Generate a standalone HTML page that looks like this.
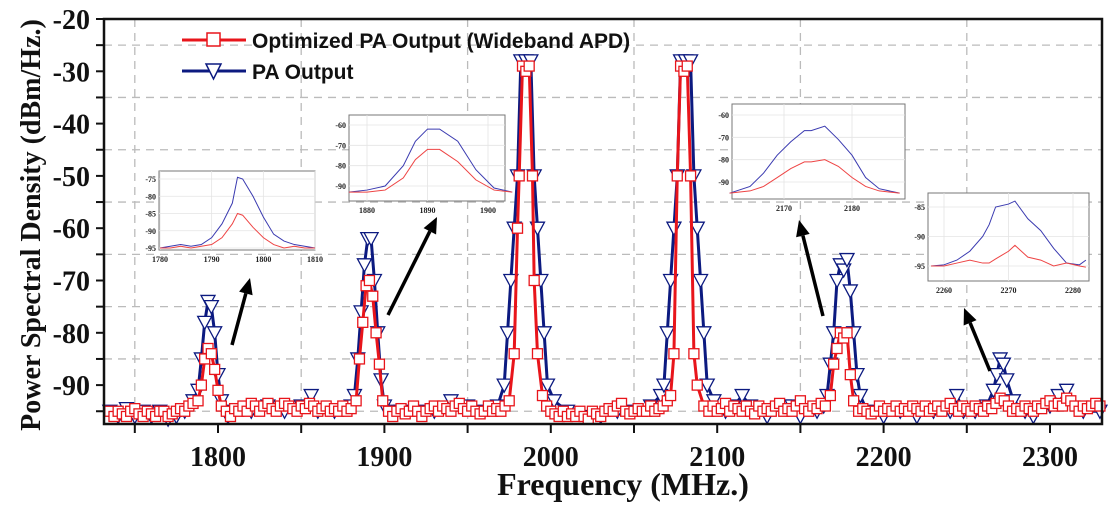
<!DOCTYPE html>
<html><head><meta charset="utf-8"><style>
html,body{margin:0;padding:0;background:#fff;width:1113px;height:507px;overflow:hidden}
svg{display:block}
.tk{font-family:"Liberation Serif",serif;font-weight:bold;font-size:28px;fill:#111}
.lg{font-family:"Liberation Sans",sans-serif;font-weight:bold;font-size:21px;fill:#111}
.it{font-family:"Liberation Serif",serif;font-weight:bold;font-size:8px;fill:#222}
</style></head><body>
<svg id="chart" width="1113" height="507">
<g id="grid"></g>
<g id="series"></g>
<rect x="104" y="19" width="998" height="405" fill="none" stroke="#111" stroke-width="2.5"/>
<g id="axes"></g>
<text x="623" y="495" text-anchor="middle" class="tk" style="font-size:32px">Frequency (MHz.)</text>
<text transform="translate(40,225) rotate(-90)" text-anchor="middle" class="tk" style="font-size:28px">Power Spectral Density (dBm/Hz.)</text>
<g>
<g>
<line x1="182" y1="40" x2="246" y2="40" stroke="#e8151b" stroke-width="3"/>
<rect x="207" y="33" width="13" height="13" fill="#fff" stroke="#e8151b" stroke-width="1.5"/>
<text x="252" y="48" class="lg">Optimized PA Output (Wideband APD)</text></g>
<g>
<line x1="182" y1="71" x2="246" y2="71" stroke="#0c1a80" stroke-width="3"/>
<path d="M206,64 L221,64 L213.5,79 Z" fill="#fff" stroke="#0c1a80" stroke-width="1.5"/>
<text x="252" y="79" class="lg">PA Output</text></g>
</g>
<g id="insets"></g>
<g id="arrows"></g>
</svg>
<script>
// main chart data
const redFreq=[1735,1737.5,1740,1742.5,1745,1747.5,1750,1752.5,1755,1757.5,1760,1762.5,1765,1767.5,1770,1772.5,1775,1777.5,1780,1782.5,1785,
1788,1790,1792,1794,1796,1798,1800,1802,
1805,1807.5,1810,1812.5,1815,1817.5,1820,1822.5,1825,1827.5,1830,1832.5,1835,1837.5,1840,1842.5,1845,1847.5,1850,1852.5,1855,1857.5,1860,1862.5,1865,1867.5,1870,1872.5,1875,1877.5,1880,
1883,1885,1887,1889,1891,1893,1895,1897,1899,
1902.5,1905,1907.5,1910,1912.5,1915,1917.5,1920,1922.5,1925,1927.5,1930,1932.5,1935,1937.5,1940,1942.5,1945,1947.5,1950,1952.5,1955,1957.5,1960,1962.5,1965,1967.5,1970,1972.5,1975,
1978,1980,1981,1983,1985,1987,1989,1990,1992,1995,
1997.5,2000,2002.5,2005,2007.5,2010,2012.5,2015,2017.5,2020,2022.5,2025,2027.5,2030,2032.5,2035,2037.5,2040,2042.5,2045,2047.5,2050,2052.5,2055,2057.5,2060,2062.5,2065,2067.5,2070,
2072,2074,2076,2078,2080,2082,2084,2086,2088,2092,
2095,2097.5,2100,2102.5,2105,2107.5,2110,2112.5,2115,2117.5,2120,2122.5,2125,2127.5,2130,2132.5,2135,2137.5,2140,2142.5,2145,2147.5,2150,2152.5,2155,2157.5,2160,2162.5,2165,
2168,2170,2172,2174,2176,2178,2180,2182,
2185,2187.5,2190,2192.5,2195,2197.5,2200,2202.5,2205,2207.5,2210,2212.5,2215,2217.5,2220,2222.5,2225,2227.5,2230,2232.5,2235,2237.5,2240,2242.5,2245,2247.5,2250,2252.5,2255,2257.5,2260,2262.5,2265,2267.5,2270,2272.5,2275,2277.5,2280,2282.5,2285,2287.5,2290,2292.5,2295,2297.5,2300,2302.5,2305,2307.5,2310,2312.5,2315,2317.5,2320,2322.5,2325,2327.5,2330];
const redVal=[-95,-96,-95,-95.5,-96,-95,-94.5,-95.5,-96,-95,-95.5,-96,-95,-95,-96,-95.5,-95,-94.5,-95,-94,-93.5,
-93,-90,-85,-83,-84,-87,-91,-94,
-95,-96,-94.5,-95,-94,-95,-93.5,-94,-95,-94,-93.5,-94.5,-95,-94,-93.5,-94,-94.5,-95,-94,-94.5,-93.5,-94,-95,-94.5,-94,-95,-94.5,-95,-94,-95,-94.5,
-93,-85,-78,-71,-70,-73,-80,-86,-93,
-95,-96,-95,-94.5,-95.5,-95,-94,-95,-96,-95,-94.5,-94,-95,-94,-94.5,-95,-94,-93.5,-94.5,-95,-94,-95,-95.5,-95,-94,-95,-94.5,-95,-94,-93,
-84,-60,-50,-29,-30,-29,-50,-70,-84,-92,
-94,-95,-95.5,-96,-95,-96,-95.5,-96,-95,-96,-96.5,-95,-95.5,-96,-95,-94.5,-95,-94,-93.5,-95,-95.5,-95,-94.5,-95,-95,-94,-95,-94.5,-94,-93,
-92,-84,-50,-29,-30,-29,-50,-84,-90,-94,
-95,-94,-95,-94.5,-93.5,-95,-94,-94.5,-95,-94,-95,-95.5,-94,-95,-94.5,-95,-94,-93.5,-95,-94.5,-95,-94,-93,-94.5,-95,-94,-94.5,-93.5,-94,
-92,-86,-83,-80,-81,-80,-88,-93,
-95,-94.5,-95,-95.5,-95,-94,-95,-94.5,-95,-94,-95,-94.5,-95,-94,-94.5,-95,-94,-95,-94.5,-94,-95,-94,-93.5,-94.5,-95,-94,-94.5,-95,-94,-94.5,-95,-94,-94.5,-93.5,-92.5,-93,-94,-95,-94.5,-95,-94,-94.5,-95,-94,-94.5,-93.5,-93,-94,-93.5,-94,-92.5,-93,-94,-95,-94,-94.5,-94,-93.5,-94];
const blueFreq=[1735,1740,1745,1750,1755,1760,1765,1770,1775,1780,1785,1788,1790,1792,1794,1796,1798,1800,1802,1806,1810,1820,1830,1840,1850,1856,1860,1870,1880,1882,1884,1886,1888,1890,1892,1894,1896,1898,1900,1905,1910,1920,1930,1940,1950,1960,1968,1972,1974,1976,1978,1980,1982,1985,1988,1990,1992,1994,1996,1998,2002,2010,2020,2030,2040,2050,2060,2066,2068,2070,2072,2074,2076,2078,2081,2084,2086,2088,2090,2092,2094,2098,2105,2110,2115,2120,2130,2140,2145,2150,2160,2164,2166,2168,2170,2172,2174,2176,2178,2180,2182,2184,2186,2190,2200,2210,2220,2230,2240,2244,2248,2255,2262,2266,2268,2270,2272,2274,2278,2285,2290,2300,2305,2310,2320,2330];
const blueVal=[-95,-96,-94.5,-96,-95,-96,-95,-96.5,-96,-95,-93,-91,-85,-78,-74,-75,-80,-88,-93,-96,-95,-95,-94,-95,-94,-92,-95,-95,-94,-92,-85,-76,-67,-62,-62,-70,-80,-89,-94,-95,-95,-95,-95,-93,-94,-95,-94,-90,-80,-70,-60,-50,-28,-28,-28,-50,-60,-70,-80,-90,-93,-95,-96,-96,-95,-95,-94,-92,-90,-80,-70,-60,-50,-28,-28,-28,-50,-60,-70,-80,-90,-93,-95,-94,-92,-94,-96,-94,-94,-96,-95,-94,-92,-86,-80,-70,-67,-68,-66,-72,-80,-88,-92,-95,-96,-95,-96,-95,-95,-92,-95,-95,-94,-91,-88,-85,-86,-89,-93,-95,-96,-94,-92,-91,-95,-95];
const xTicks=[1800,1900,2000,2100,2200,2300];
const yTicks=[-20,-30,-40,-50,-60,-70,-80,-90];

const NS='http://www.w3.org/2000/svg';
const X=f=>218+(f-1800)*1.664;
const Y=v=>19-(v+20)*5.23;
function mk(t,a,p){const e=document.createElementNS(NS,t);for(const k in a)e.setAttribute(k,a[k]);p.appendChild(e);return e;}
const grid=document.getElementById('grid'),axes=document.getElementById('axes'),ser=document.getElementById('series');
for(let v=-25;v>=-95;v-=10){const l=mk('line',{x1:104,x2:1102,y1:Y(v),y2:Y(v),stroke:'#bbb','stroke-width':1.3,'stroke-dasharray':'8 6'},grid);

}
for(let f=1750;f<=2300;f+=100){const l=mk('line',{x1:X(f),x2:X(f),y1:19,y2:424,stroke:'#bbb','stroke-width':1.3,'stroke-dasharray':'8 6'},grid);

}
for(let f=1750;f<=2330;f+=50){const l=mk('line',{x1:X(f),x2:X(f),y1:424,y2:433,stroke:'#111','stroke-width':2},axes);

}
xTicks.forEach(f=>{const t=mk('text',{x:X(f),y:466,'text-anchor':'middle',class:'tk'},axes);t.textContent=f;

});
yTicks.forEach(v=>{const t=mk('text',{x:90,y:Y(v)+10,'text-anchor':'end',class:'tk'},axes);t.textContent=v;

});
for(let v=-20;v>=-95;v-=5){const l=mk('line',{x1:96,x2:104,y1:Y(v),y2:Y(v),stroke:'#111','stroke-width':2},axes);

}
function series(fr,va,col,kind,name){
 const g=mk('g',{},ser);
 
 
 mk('polyline',{points:fr.map((f,i)=>X(f)+','+Y(va[i])).join(' '),fill:'none',stroke:col,'stroke-width':3},g);
 fr.forEach((f,i)=>{const x=X(f),y=Y(va[i]);let m;
  if(kind==='sq')m=mk('rect',{x:x-5,y:y-5,width:10,height:10,fill:'#fff',stroke:col,'stroke-width':1.3},g);
  else m=mk('path',{d:`M${x-7},${y-6} L${x+7},${y-6} L${x},${y+7} Z`,fill:'#fff',stroke:col,'stroke-width':1.3},g);
  
  });
}
series(blueFreq,blueVal,'#0c1a80','tri','pa-output-series');
series(redFreq,redVal,'#e8151b','sq','optimized-series');

// insets data
const in1F=[1780,1782,1784,1786,1788,1790,1792,1794,1795,1796,1798,1800,1802,1804,1806,1808,1810];
const in1B=[-95,-94.5,-94,-94.5,-94,-92,-88,-82,-74.5,-75,-80,-86,-91,-93,-94,-94.5,-95];
const in1R=[-95,-95,-94.5,-95,-94.5,-94,-92,-88,-85,-85.5,-89,-92,-94,-95,-94.5,-95,-95];
const in2F=[1877,1880,1883,1886,1888,1890,1892,1895,1898,1901,1904];
const in2B=[-93,-92,-90,-80,-68,-62,-62,-68,-82,-91,-93];
const in2R=[-93,-93,-92,-86,-77,-72,-72,-78,-87,-92,-93];
const in3F=[2162,2165,2167,2169,2171,2173,2174,2176,2178,2180,2182,2184,2187];
const in3B=[-95,-92,-86,-78,-72,-67,-67,-65,-71,-78,-88,-93,-95];
const in3R=[-95,-94,-92,-88,-84,-81,-81,-80,-83,-88,-92,-94,-95];
const in4F=[2258,2260,2262,2264,2266,2267,2268,2270,2271,2273,2275,2277,2279,2281,2282];
const in4B=[-95,-94.8,-94,-92.5,-90,-88,-85,-84.5,-84,-87,-89,-92,-94.5,-94.8,-94];
const in4R=[-95,-95,-94.5,-94,-94.5,-94.5,-93.8,-92.5,-91.5,-93.5,-94,-95,-94.5,-95,-95.2];
const insetsG=document.getElementById('insets');
function inset(name,bx,by,bw,bh,fx0,px0,fx1,px1,vy0,py0,vy1,py1,F,B,R,xl,yl){
 const g=mk('g',{},insetsG);
 
 
 mk('rect',{x:bx,y:by,width:bw,height:bh,fill:'#fff',stroke:'#777','stroke-width':1},g);
 const ix=f=>px0+(f-fx0)*(px1-px0)/(fx1-fx0), iy=v=>py0+(v-vy0)*(py1-py0)/(vy1-vy0);
 xl.forEach(f=>{mk('line',{x1:ix(f),x2:ix(f),y1:by,y2:by+bh,stroke:'#e4e4e4','stroke-width':0.8},g);
  const t=mk('text',{x:ix(f),y:by+bh+12,'text-anchor':'middle',class:'it'},g);t.textContent=f;});
 yl.forEach(v=>{mk('line',{x1:bx,x2:bx+bw,y1:iy(v),y2:iy(v),stroke:'#e4e4e4','stroke-width':0.8},g);
  const t=mk('text',{x:bx-3,y:iy(v)+3,'text-anchor':'end',class:'it'},g);t.textContent=v;});
 mk('polyline',{points:F.map((f,i)=>ix(f)+','+iy(B[i])).join(' '),fill:'none',stroke:'#3a3ab0','stroke-width':1},g);
 mk('polyline',{points:F.map((f,i)=>ix(f)+','+iy(R[i])).join(' '),fill:'none',stroke:'#ee4444','stroke-width':1},g);
}
inset('inset-1795',159,171,156,79,1780,160,1810,315,-75,179,-95,248,in1F,in1B,in1R,[1780,1790,1800,1810],[-75,-80,-85,-90,-95]);
inset('inset-1890',349,115,156,86,1880,367,1900,488,-60,125,-90,186,in2F,in2B,in2R,[1880,1890,1900],[-60,-70,-80,-90]);
inset('inset-2175',732,104,173,95,2170,784,2180,852,-60,115,-90,182,in3F,in3B,in3R,[2170,2180],[-60,-70,-80,-90]);
inset('inset-2270',928,193,161,88,2260,944,2280,1073,-85,207,-95,266,in4F,in4B,in4R,[2260,2270,2280],[-85,-90,-95]);
const ar=document.getElementById('arrows');
[[232,345,250,278],[388,315,437,217],[823,316,799,220],[990,371,964,308]].forEach(a=>{
 const g=mk('g',{},ar);
 
 
 const [x1,y1,x2,y2]=a,dx=x2-x1,dy=y2-y1,L=Math.hypot(dx,dy),ux=dx/L,uy=dy/L;
 const bx=x2-ux*16,by=y2-uy*16;
 mk('line',{x1:x1,y1:y1,x2:bx,y2:by,stroke:'#000','stroke-width':3.5},g);
 mk('path',{d:`M${x2},${y2} L${bx-uy*7},${by+ux*7} L${bx+uy*7},${by-ux*7} Z`,fill:'#000'},g);
});
</script>
</body></html>
